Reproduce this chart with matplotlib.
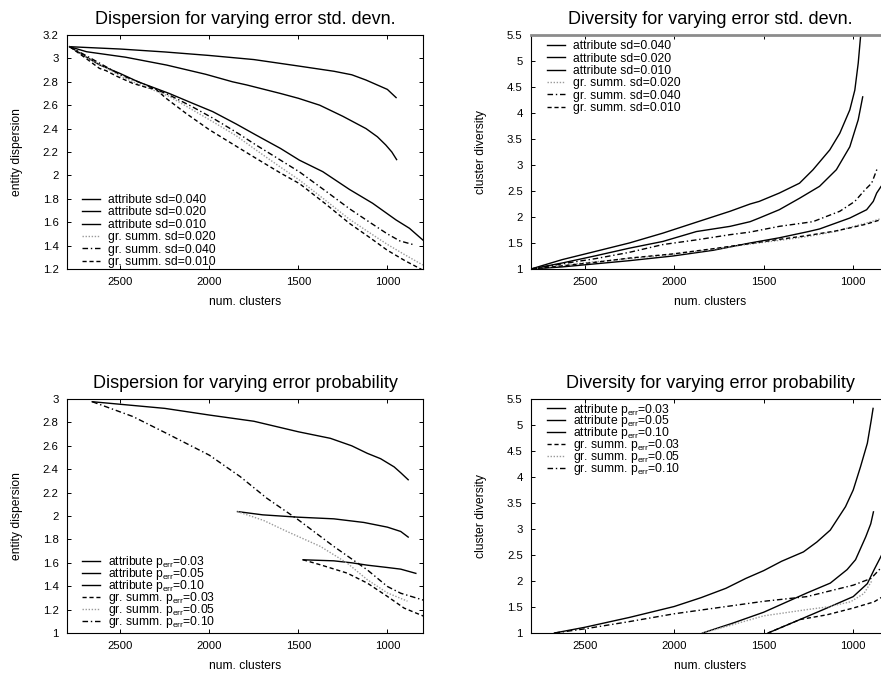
import matplotlib
matplotlib.use("Agg")
import matplotlib.pyplot as plt

plt.rcParams["font.family"] = ["Liberation Sans", "DejaVu Sans"]
plt.rcParams["mathtext.fontset"] = "custom"
plt.rcParams["mathtext.rm"] = "Liberation Sans"
plt.rcParams["mathtext.default"] = "regular"

XTICKS = [2500, 2000, 1500, 1000]

# --- dispersion, varying error std. devn. (top left)
disp_sd_a040_x = [2785, 2500, 2250, 2000, 1750, 1500, 1300, 1200, 1120, 1045, 1000, 951]
disp_sd_a040_y = [3.10, 3.08, 3.055, 3.025, 2.99, 2.935, 2.89, 2.86, 2.815, 2.765, 2.735, 2.665]
disp_sd_a020_x = [2785, 2690, 2470, 2240, 2020, 1870, 1790, 1600, 1500, 1380, 1250, 1120, 1056, 1009, 975, 948]
disp_sd_a020_y = [3.10, 3.057, 3.01, 2.943, 2.864, 2.80, 2.773, 2.70, 2.659, 2.60, 2.505, 2.40, 2.33, 2.26, 2.20, 2.135]
disp_sd_a010_x = [2785, 2700, 2616, 2500, 2400, 2225, 2100, 1981, 1850, 1738, 1600, 1494, 1363, 1213, 1083, 951, 876, 801]
disp_sd_a010_y = [3.10, 3.02, 2.944, 2.87, 2.80, 2.70, 2.62, 2.545, 2.44, 2.345, 2.23, 2.13, 2.032, 1.88, 1.762, 1.619, 1.548, 1.448]
disp_sd_g020_x = [2785, 2700, 2600, 2500, 2400, 2225, 2100, 1981, 1850, 1738, 1600, 1494, 1350, 1213, 1100, 1000, 900, 801]
disp_sd_g020_y = [3.10, 3.02, 2.935, 2.85, 2.78, 2.675, 2.565, 2.459, 2.34, 2.217, 2.07, 1.96, 1.79, 1.625, 1.51, 1.41, 1.32, 1.234]
disp_sd_g040_x = [2785, 2700, 2600, 2500, 2400, 2225, 2100, 1981, 1850, 1738, 1600, 1494, 1350, 1213, 1100, 1000, 930, 858]
disp_sd_g040_y = [3.10, 3.03, 2.945, 2.86, 2.80, 2.687, 2.59, 2.49, 2.37, 2.26, 2.13, 2.03, 1.87, 1.715, 1.60, 1.50, 1.44, 1.41]
disp_sd_g010_x = [2785, 2693, 2618, 2580, 2524, 2431, 2356, 2300, 2244, 2131, 2000, 1850, 1738, 1600, 1494, 1350, 1213, 1100, 1000, 900, 820, 795]
disp_sd_g010_y = [3.10, 3.0, 2.915, 2.895, 2.85, 2.787, 2.753, 2.736, 2.66, 2.53, 2.39, 2.25, 2.146, 2.02, 1.93, 1.76, 1.59, 1.47, 1.36, 1.27, 1.206, 1.185]

# --- diversity, varying error std. devn. (top right)
div_sd_a040_x = [2800, 2626, 2438, 2251, 2063, 1876, 1688, 1576, 1525, 1413, 1300, 1225, 1131, 1075, 1019, 991, 972, 959, 955]
div_sd_a040_y = [1.0, 1.18, 1.34, 1.50, 1.69, 1.90, 2.11, 2.25, 2.30, 2.46, 2.65, 2.907, 3.29, 3.61, 4.06, 4.44, 4.96, 5.47, 5.6]
div_sd_a020_x = [2800, 2626, 2438, 2251, 2063, 1876, 1688, 1576, 1525, 1413, 1300, 1188, 1094, 1019, 972, 947]
div_sd_a020_y = [1.0, 1.115, 1.255, 1.40, 1.53, 1.72, 1.82, 1.91, 1.98, 2.14, 2.36, 2.59, 2.91, 3.35, 3.87, 4.31]
div_sd_a010_x = [2800, 2626, 2438, 2251, 2007, 1782, 1576, 1413, 1250, 1188, 1019, 925, 888, 869, 844, 820]
div_sd_a010_y = [1.0, 1.04, 1.10, 1.16, 1.25, 1.36, 1.50, 1.60, 1.72, 1.77, 1.98, 2.14, 2.30, 2.46, 2.59, 2.68]
div_sd_g020_x = [2800, 2626, 2438, 2251, 2007, 1782, 1576, 1413, 1262, 1100, 1019, 930, 844, 820]
div_sd_g020_y = [1.0, 1.07, 1.14, 1.20, 1.28, 1.38, 1.48, 1.55, 1.62, 1.72, 1.80, 1.88, 1.97, 2.0]
div_sd_g040_x = [2800, 2626, 2438, 2251, 2063, 1876, 1688, 1576, 1413, 1225, 1075, 991, 935, 897, 865]
div_sd_g040_y = [1.0, 1.10, 1.20, 1.32, 1.47, 1.56, 1.66, 1.71, 1.82, 1.91, 2.11, 2.30, 2.52, 2.65, 2.94]
div_sd_g010_x = [2800, 2626, 2438, 2251, 2007, 1782, 1576, 1413, 1262, 1100, 1019, 930, 844, 820]
div_sd_g010_y = [1.0, 1.06, 1.13, 1.21, 1.29, 1.39, 1.49, 1.57, 1.64, 1.73, 1.79, 1.86, 1.95, 1.98]

# --- dispersion, varying error probability (bottom left)
disp_p_a003_x = [2658, 2500, 2250, 2000, 1750, 1500, 1320, 1200, 1113, 1038, 962, 925, 883]
disp_p_a003_y = [2.977, 2.955, 2.92, 2.863, 2.81, 2.72, 2.664, 2.60, 2.536, 2.49, 2.42, 2.37, 2.31]
disp_p_a005_x = [1842, 1700, 1500, 1301, 1132, 1000, 925, 883]
disp_p_a005_y = [2.038, 2.01, 1.99, 1.976, 1.945, 1.905, 1.868, 1.82]
disp_p_a010_x = [1474, 1301, 1200, 1113, 1000, 925, 840]
disp_p_a010_y = [1.626, 1.617, 1.60, 1.58, 1.56, 1.546, 1.51]
disp_p_g003_x = [1474, 1376, 1226, 1113, 1000, 906, 793]
disp_p_g003_y = [1.626, 1.583, 1.512, 1.427, 1.313, 1.213, 1.142]
disp_p_g005_x = [1842, 1695, 1564, 1376, 1226, 1113, 1000, 887]
disp_p_g005_y = [2.038, 1.962, 1.868, 1.74, 1.598, 1.456, 1.343, 1.272]
disp_p_g010_x = [2658, 2429, 2241, 2000, 1827, 1677, 1500, 1301, 1113, 1000, 925, 793]
disp_p_g010_y = [2.977, 2.85, 2.707, 2.52, 2.337, 2.152, 1.967, 1.74, 1.54, 1.398, 1.34, 1.279]

# --- diversity, varying error probability (bottom right)
div_p_a003_x = [2669, 2500, 2250, 2000, 1850, 1711, 1600, 1500, 1400, 1278, 1203, 1128, 1043, 1000, 959, 921, 899, 889]
div_p_a003_y = [1.0, 1.11, 1.30, 1.51, 1.68, 1.86, 2.05, 2.20, 2.38, 2.56, 2.75, 2.98, 3.43, 3.75, 4.2, 4.65, 5.1, 5.32]
div_p_a005_x = [1842, 1673, 1500, 1259, 1128, 1034, 987, 930, 902, 887]
div_p_a005_y = [1.0, 1.19, 1.40, 1.77, 1.96, 2.22, 2.41, 2.85, 3.10, 3.33]
div_p_a010_x = [1476, 1297, 1147, 1000, 921, 883, 850, 820]
div_p_a010_y = [1.0, 1.26, 1.48, 1.70, 1.95, 2.22, 2.44, 2.65]
div_p_g003_x = [1476, 1297, 1147, 1000, 883, 840, 820]
div_p_g003_y = [1.0, 1.26, 1.35, 1.48, 1.60, 1.69, 1.72]
div_p_g005_x = [1842, 1673, 1500, 1259, 1147, 1015, 940, 893]
div_p_g005_y = [1.0, 1.16, 1.33, 1.45, 1.50, 1.60, 1.76, 2.02]
div_p_g010_x = [2669, 2500, 2250, 2000, 1750, 1500, 1259, 1000, 900, 846, 820]
div_p_g010_y = [1.0, 1.08, 1.22, 1.37, 1.49, 1.61, 1.70, 1.92, 2.05, 2.25, 2.30]

SOLID = dict(color="black", ls="-")
DOTTED = dict(color="#9a9a9a", ls=(0, (1, 1.2)))
DASHDOT = dict(color="black", ls=(0, (4, 2, 1, 2)))
DASHED = dict(color="black", ls=(0, (3, 2)))

sd_labels = ["attribute sd=0.040", "attribute sd=0.020", "attribute sd=0.010",
             "gr. summ. sd=0.020", "gr. summ. sd=0.040", "gr. summ. sd=0.010"]
p_labels = ["attribute p$_{err}$=0.03", "attribute p$_{err}$=0.05", "attribute p$_{err}$=0.10",
            "gr. summ. p$_{err}$=0.03", "gr. summ. p$_{err}$=0.05", "gr. summ. p$_{err}$=0.10"]


def panel(ax, series, title, ylabel, ylim, yticks, anchor, spacing):
    for (x, y), lab, st in series:
        ax.plot(x, y, lw=1.0, label=lab, **st)
    ax.set_xlim(2800, 800)
    ax.set_ylim(*ylim)
    ax.set_xticks(XTICKS)
    ax.set_yticks(yticks)
    ax.set_yticklabels([f"{t:g}" for t in yticks])
    ax.tick_params(direction="in", top=True, right=True, length=3, width=0.7, labelsize=8.2, pad=6)
    for s in ax.spines.values():
        s.set_linewidth(0.8)
    ax.set_title(title, fontsize=13, pad=8)
    ax.set_xlabel("num. clusters", fontsize=8.7, labelpad=6.5)
    ax.set_ylabel(ylabel, fontsize=8.7, labelpad=14)
    ax.legend(loc="upper left", bbox_to_anchor=anchor, frameon=False, fontsize=8.7,
              handlelength=1.5, handletextpad=0.66, labelspacing=spacing, borderpad=0, borderaxespad=0)


fig = plt.figure(figsize=(8.81, 6.73), dpi=100)
ax_tl = fig.add_axes([0.0760, 0.6003, 0.4041, 0.3477])
ax_tr = fig.add_axes([0.6027, 0.6003, 0.4064, 0.3477])
ax_bl = fig.add_axes([0.0760, 0.0594, 0.4041, 0.3477])
ax_br = fig.add_axes([0.6027, 0.0594, 0.4064, 0.3477])

styles_sd = [SOLID, SOLID, SOLID, DOTTED, DASHDOT, DASHED]
styles_p = [SOLID, SOLID, SOLID, DASHED, DOTTED, DASHDOT]

panel(ax_tl, zip([(disp_sd_a040_x, disp_sd_a040_y), (disp_sd_a020_x, disp_sd_a020_y), (disp_sd_a010_x, disp_sd_a010_y),
                  (disp_sd_g020_x, disp_sd_g020_y), (disp_sd_g040_x, disp_sd_g040_y), (disp_sd_g010_x, disp_sd_g010_y)],
                 sd_labels, styles_sd),
      "Dispersion for varying error std. devn.", "entity dispersion",
      (1.2, 3.2), [1.2, 1.4, 1.6, 1.8, 2.0, 2.2, 2.4, 2.6, 2.8, 3.0, 3.2], (0.042, 0.320), 0.03)

panel(ax_tr, zip([(div_sd_a040_x, div_sd_a040_y), (div_sd_a020_x, div_sd_a020_y), (div_sd_a010_x, div_sd_a010_y),
                  (div_sd_g020_x, div_sd_g020_y), (div_sd_g040_x, div_sd_g040_y), (div_sd_g010_x, div_sd_g010_y)],
                 sd_labels, styles_sd),
      "Diversity for varying error std. devn.", "cluster diversity",
      (1, 5.5), [1, 1.5, 2, 2.5, 3, 3.5, 4, 4.5, 5, 5.5], (0.044, 0.978), 0.03)
ax_tr.spines["top"].set_color("#8c8c8c")
ax_tr.spines["top"].set_linewidth(2)

panel(ax_bl, zip([(disp_p_a003_x, disp_p_a003_y), (disp_p_a005_x, disp_p_a005_y), (disp_p_a010_x, disp_p_a010_y),
                  (disp_p_g003_x, disp_p_g003_y), (disp_p_g005_x, disp_p_g005_y), (disp_p_g010_x, disp_p_g010_y)],
                 p_labels, styles_p),
      "Dispersion for varying error probability", "entity dispersion",
      (1, 3), [1, 1.2, 1.4, 1.6, 1.8, 2, 2.2, 2.4, 2.6, 2.8, 3], (0.042, 0.336), -0.33)

panel(ax_br, zip([(div_p_a003_x, div_p_a003_y), (div_p_a005_x, div_p_a005_y), (div_p_a010_x, div_p_a010_y),
                  (div_p_g003_x, div_p_g003_y), (div_p_g005_x, div_p_g005_y), (div_p_g010_x, div_p_g010_y)],
                 p_labels, styles_p),
      "Diversity for varying error probability", "cluster diversity",
      (1, 5.5), [1, 1.5, 2, 2.5, 3, 3.5, 4, 4.5, 5, 5.5], (0.044, 0.989), -0.34)

fig.savefig("out.png", dpi=100)
